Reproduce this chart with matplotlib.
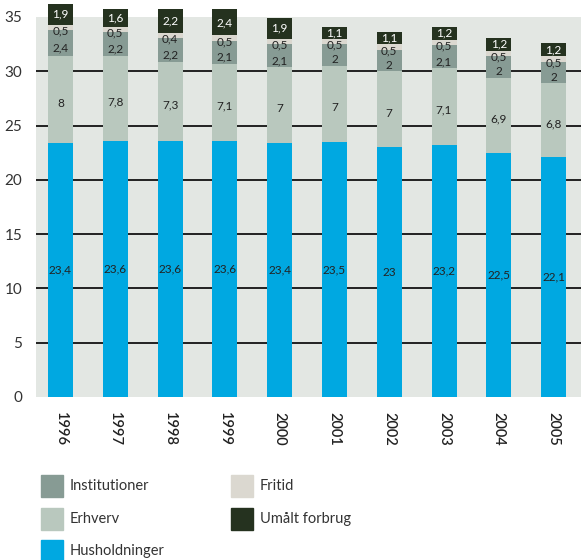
import numpy as np
import matplotlib.pyplot as plt
from matplotlib.patches import Rectangle

plt.rcParams['font.family'] = ['Lato', 'DejaVu Sans']

# data
years = ['1996', '1997', '1998', '1999', '2000', '2001', '2002', '2003', '2004', '2005']
husholdninger = [23.4, 23.6, 23.6, 23.6, 23.4, 23.5, 23, 23.2, 22.5, 22.1]
erhverv = [8, 7.8, 7.3, 7.1, 7, 7, 7, 7.1, 6.9, 6.8]
institutioner = [2.4, 2.2, 2.2, 2.1, 2.1, 2, 2, 2.1, 2, 2]
fritid = [0.5, 0.5, 0.4, 0.5, 0.5, 0.5, 0.5, 0.5, 0.5, 0.5]
umaalt = [1.9, 1.6, 2.2, 2.4, 1.9, 1.1, 1.1, 1.2, 1.2, 1.2]
yticks = [0, 5, 10, 15, 20, 25, 30, 35]

series = [
    # navn, data, farve, tekstfarve, label-forskydning
    ('Husholdninger', husholdninger, '#00a8e1', '#222222', 0.0),
    ('Erhverv', erhverv, '#b9c8be', '#222222', -0.35),
    ('Institutioner', institutioner, '#879b94', '#222222', -0.45),
    ('Fritid', fritid, '#dbd8d0', '#222222', -0.35),
    ('Umålt forbrug', umaalt, '#25321f', 'white', 0.0),
]

def fmt(v):
    s = ('%g' % v)
    return s.replace('.', ',')

fig = plt.figure(figsize=(5.81, 5.60), dpi=100)
ax = fig.add_axes([36/581, 1-397/560, 1-36/581, (397-17)/560])
ax.set_facecolor('#e3e7e3')

x = np.arange(len(years))
bottom = np.zeros(len(years))
for name, vals, col, tcol, off in series:
    vals = np.array(vals, dtype=float)
    ax.bar(x, vals, width=0.456, bottom=bottom, color=col, zorder=3, clip_on=False)
    for xi, b, v in zip(x, bottom, vals):
        ax.text(xi, b + v/2 + off, fmt(v), ha='center', va='center',
                fontsize=8.5, color=tcol, zorder=4, clip_on=False)
    bottom = bottom + vals

for t in yticks[1:-1]:
    ax.axhline(t, color='black', lw=1.2, zorder=1)

ax.set_ylim(0, 35)
ax.set_xlim(-0.447, 9.50)
ax.set_yticks(yticks)
ax.set_xticks(x)
ax.set_xticklabels(years, rotation=270, fontsize=10.5, color='#222222', fontweight='semibold')
ax.tick_params(axis='y', length=0, pad=10, labelsize=11, labelcolor='#333333')
ax.tick_params(axis='x', length=0, pad=11)
for s in ax.spines.values():
    s.set_visible(False)

# forklaring
legend_items = [
    ('Institutioner', '#879b94', 41, 486),
    ('Erhverv', '#b9c8be', 41, 519),
    ('Husholdninger', '#00a8e1', 41, 551),
    ('Fritid', '#dbd8d0', 231, 486),
    ('Umålt forbrug', '#25321f', 231, 519),
]
W, H = 581, 560
for name, col, px, py in legend_items:
    fig.add_artist(Rectangle((px/W, 1-(py+11)/H), 22/W, 22/H, color=col,
                             transform=fig.transFigure))
    fig.text((px+29)/W, 1-py/H, name, ha='left', va='center', fontsize=10.5, color='#333333')

fig.savefig('out.png', dpi=100)
